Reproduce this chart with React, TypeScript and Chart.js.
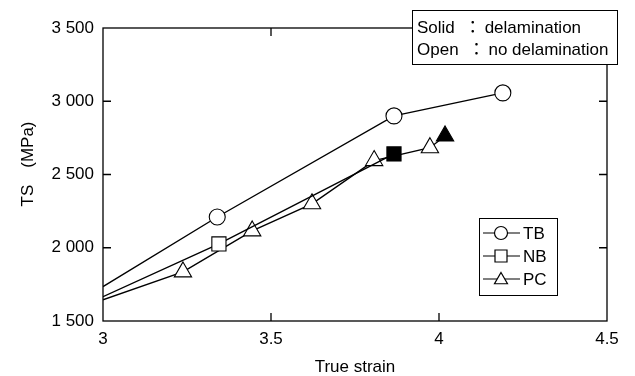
import React, { useEffect, useRef } from "react";
import { Chart, registerables } from "chart.js";

Chart.register(...registerables);

const TB_X = [3.0, 3.34, 3.866, 4.19];
const TB_Y = [1735, 2210, 2900, 3057];
const NB_X = [3.0, 3.345, 3.866];
const NB_Y = [1666, 2026, 2640];
const PC_X = [3.0, 3.238, 3.444, 3.622, 3.807, 3.973, 4.018];
const PC_Y = [1645, 1835, 2115, 2300, 2595, 2683, 2763];
// filled markers = delamination
const NB_SOLID = [false, false, true];
const PC_SOLID = [false, false, false, false, false, false, true];
const TB_SOLID = [false, false, false, false];

const SERIES_NAMES = ["TB", "NB", "PC"];
const X_TITLE = "True strain";
const Y_TITLE = "TS\u3000(MPa)";
const NOTE_LINES = ["Solid  \uFF1A\u2009delamination", "Open  \uFF1A\u2009no delamination"];

const FONT = "'Liberation Sans', Arial, 'Noto Sans CJK JP', sans-serif";

function pts(xs: number[], ys: number[]) {
  return xs.map((x, i) => ({ x, y: ys[i] }));
}

function drawMarker(ctx: CanvasRenderingContext2D, kind: string, x: number, y: number, s: number, fill: string) {
  ctx.beginPath();
  if (kind === "circle") {
    ctx.arc(x, y, s, 0, Math.PI * 2);
  } else if (kind === "rect") {
    ctx.rect(x - s, y - s, 2 * s, 2 * s);
  } else {
    ctx.moveTo(x, y - s);
    ctx.lineTo(x + s * 0.866, y + s * 0.5);
    ctx.lineTo(x - s * 0.866, y + s * 0.5);
    ctx.closePath();
  }
  ctx.fillStyle = fill;
  ctx.fill();
  ctx.stroke();
}

const framePlugin = {
  id: "frame",
  afterDraw(chart: any) {
    const ctx = chart.ctx as CanvasRenderingContext2D;
    const { left, right, top, bottom } = chart.chartArea;
    const xs = chart.scales.x;
    const ys = chart.scales.y;
    ctx.save();
    ctx.strokeStyle = "#000";
    ctx.lineWidth = 1.3;
    ctx.strokeRect(left, top, right - left, bottom - top);
    const tl = 8;
    ctx.beginPath();
    xs.ticks.forEach((t: any) => {
      const px = xs.getPixelForValue(t.value);
      if (Math.abs(px - left) < 2 || Math.abs(px - right) < 2) return;
      ctx.moveTo(px, bottom);
      ctx.lineTo(px, bottom - tl);
      ctx.moveTo(px, top);
      ctx.lineTo(px, top + tl);
    });
    ys.ticks.forEach((t: any) => {
      const py = ys.getPixelForValue(t.value);
      if (Math.abs(py - top) < 2 || Math.abs(py - bottom) < 2) return;
      ctx.moveTo(left, py);
      ctx.lineTo(left + tl, py);
      ctx.moveTo(right, py);
      ctx.lineTo(right - tl, py);
    });
    ctx.stroke();

    // axis titles
    ctx.fillStyle = "#000";
    ctx.font = `17px ${FONT}`;
    ctx.textAlign = "center";
    ctx.textBaseline = "middle";
    ctx.fillText(X_TITLE, (left + right) / 2, 367);
    ctx.save();
    ctx.translate(28, 164);
    ctx.rotate(-Math.PI / 2);
    ctx.fillText(Y_TITLE, 0, 0);
    ctx.restore();

    // note box
    ctx.lineWidth = 1;
    ctx.fillStyle = "#fff";
    ctx.fillRect(412, 10, 205, 54);
    ctx.strokeRect(412.5, 10.5, 205, 54);
    ctx.fillStyle = "#000";
    ctx.font = `17px ${FONT}`;
    ctx.textAlign = "left";
    ctx.fillText(NOTE_LINES[0], 417, 28);
    ctx.fillText(NOTE_LINES[1], 417, 50);

    // legend box
    ctx.fillStyle = "#fff";
    ctx.fillRect(479, 218, 78, 77);
    ctx.strokeRect(479.5, 218.5, 78, 77);
    const kinds = ["circle", "rect", "triangle"];
    const sizes = [6.5, 6, 7.5];
    const rows = [233, 256, 279];
    kinds.forEach((k, i) => {
      ctx.lineWidth = 1.2;
      ctx.beginPath();
      ctx.moveTo(483, rows[i]);
      ctx.lineTo(520, rows[i]);
      ctx.stroke();
      drawMarker(ctx, k, 501, k === "triangle" ? rows[i] + 1 : rows[i], sizes[i], "#fff");
      ctx.fillStyle = "#000";
      ctx.font = `17px ${FONT}`;
      ctx.textAlign = "left";
      ctx.fillText(SERIES_NAMES[i], 523, rows[i] + 1);
    });
    ctx.restore();
  },
};

export default function App() {
  const ref = useRef<HTMLCanvasElement | null>(null);
  useEffect(() => {
    if (!ref.current) return;
    const mk = (label: string, xs: number[], ys: number[], solid: boolean[], style: string, r: number) => ({
      label,
      data: pts(xs, ys),
      borderColor: "#000",
      borderWidth: 1.4,
      showLine: true,
      fill: false,
      tension: 0,
      pointStyle: style,
      pointRadius: xs.map((x) => (x <= 3.0 ? 0 : r)),
      pointBackgroundColor: solid.map((s) => (s ? "#000" : "#fff")),
      pointBorderColor: "#000",
      pointBorderWidth: 1.1,
      pointHoverRadius: 0,
    });
    const chart = new Chart(ref.current, {
      type: "scatter",
      data: {
        datasets: [
          mk(SERIES_NAMES[0], TB_X, TB_Y, TB_SOLID, "circle", 8),
          mk(SERIES_NAMES[1], NB_X, NB_Y, NB_SOLID, "rect", 10),
          mk(SERIES_NAMES[2], PC_X, PC_Y, PC_SOLID, "triangle", 10),
        ] as any,
      },
      options: {
        responsive: false,
        animation: false,
        events: [],
        layout: { padding: { top: 28, right: 28, left: 0, bottom: 0 } },
        plugins: { legend: { display: false }, tooltip: { enabled: false } },
        scales: {
          x: {
            type: "linear",
            min: 3,
            max: 4.5,
            grid: { display: false, drawTicks: false },
            border: { display: false },
            ticks: {
              stepSize: 0.5,
              padding: 8,
              color: "#000",
              font: { family: FONT, size: 17 },
              maxRotation: 0,
              callback: (v: any) => String(v),
            },
            afterFit: (s: any) => {
              s.height = 55;
            },
          },
          y: {
            type: "linear",
            min: 1500,
            max: 3500,
            grid: { display: false, drawTicks: false },
            border: { display: false },
            ticks: {
              stepSize: 500,
              padding: 9,
              color: "#000",
              font: { family: FONT, size: 17 },
              callback: (v: any) => {
                const n = Number(v);
                return Math.floor(n / 1000) + " " + String(n % 1000).padStart(3, "0");
              },
            },
            afterFit: (s: any) => {
              s.width = 103;
            },
          },
        },
      },
      plugins: [framePlugin],
    });
    return () => chart.destroy();
  }, []);
  return (
    <div style={{ position: "absolute", left: 0, top: 0, width: 635, height: 376, background: "#fff" }}>
      <canvas ref={ref} width={635} height={376} style={{ width: 635, height: 376 }} />
    </div>
  );
}
